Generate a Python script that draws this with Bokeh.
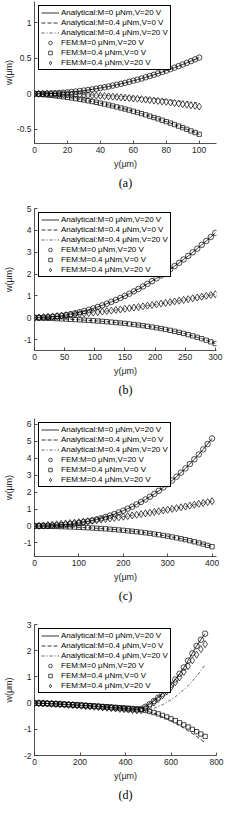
from bokeh.plotting import figure
from bokeh.layouts import column
from bokeh.models import Range1d, FixedTicker, Legend, LegendItem, NumeralTickFormatter
from bokeh.embed import file_html
from bokeh.resources import INLINE

LABELS = ["Analytical:M=0 \u03bcNm,V=20 V", "Analytical:M=0.4 \u03bcNm,V=0 V",
          "Analytical:M=0.4 \u03bcNm,V=20 V", "FEM:M=0 \u03bcNm,V=20 V",
          "FEM:M=0.4 \u03bcNm,V=0 V", "FEM:M=0.4 \u03bcNm,V=20 V"]

# ---------------- panel (a) ----------------
y_a = [0, 2.5, 5, 7.5, 10, 12.5, 15, 17.5, 20, 22.5, 25, 27.5, 30, 32.5, 35, 37.5, 40, 42.5, 45, 47.5,
       50, 52.5, 55, 57.5, 60, 62.5, 65, 67.5, 70, 72.5, 75, 77.5, 80, 82.5, 85, 87.5, 90, 92.5, 95, 97.5, 100]
a_m0_v20 = [0, 0.000, 0.001, 0.003, 0.005, 0.008, 0.011, 0.016, 0.020, 0.026, 0.032, 0.039, 0.046, 0.054,
            0.062, 0.072, 0.082, 0.092, 0.103, 0.115, 0.128, 0.141, 0.154, 0.169, 0.184, 0.199, 0.215,
            0.232, 0.250, 0.268, 0.287, 0.306, 0.326, 0.347, 0.368, 0.390, 0.413, 0.436, 0.460, 0.485, 0.510]
a_m04_v0 = [0, -0.005, -0.010, -0.015, -0.021, -0.028, -0.035, -0.042, -0.050, -0.059, -0.068, -0.077,
            -0.087, -0.098, -0.109, -0.120, -0.132, -0.145, -0.158, -0.171, -0.185, -0.200, -0.215, -0.230,
            -0.246, -0.263, -0.280, -0.297, -0.315, -0.334, -0.353, -0.372, -0.392, -0.413, -0.434, -0.455,
            -0.477, -0.500, -0.523, -0.546, -0.570]
a_m04_v20_fem = [0, 0.000, 0.000, -0.001, -0.002, -0.003, -0.004, -0.006, -0.007, -0.009, -0.011, -0.014,
                 -0.016, -0.019, -0.022, -0.025, -0.029, -0.033, -0.036, -0.041, -0.045, -0.050, -0.054,
                 -0.060, -0.065, -0.070, -0.076, -0.082, -0.088, -0.095, -0.101, -0.108, -0.115, -0.123,
                 -0.130, -0.138, -0.146, -0.154, -0.162, -0.171, -0.180]
y_a_ana3 = [0, 10, 20, 30, 40, 50, 60, 70, 80, 90, 100]
a_m04_v20_ana = [0, -0.001, -0.005, -0.012, -0.021, -0.033, -0.047, -0.064, -0.083, -0.105, -0.130]

# ---------------- panel (b) ----------------
y_b = [0, 7.5, 15, 22.5, 30, 37.5, 45, 52.5, 60, 67.5, 75, 82.5, 90, 97.5, 105, 112.5, 120, 127.5, 135,
       142.5, 150, 157.5, 165, 172.5, 180, 187.5, 195, 202.5, 210, 217.5, 225, 232.5, 240, 247.5, 255,
       262.5, 270, 277.5, 285, 292.5, 300]
b_m0_v20 = [0, 0.003, 0.010, 0.023, 0.041, 0.064, 0.092, 0.125, 0.163, 0.206, 0.254, 0.307, 0.364, 0.427,
            0.494, 0.567, 0.644, 0.726, 0.812, 0.904, 1.000, 1.101, 1.206, 1.317, 1.431, 1.551, 1.675,
            1.803, 1.936, 2.074, 2.216, 2.363, 2.514, 2.669, 2.829, 2.994, 3.162, 3.335, 3.513, 3.694, 3.880]
b_m04_v0 = [0, -0.008, -0.016, -0.024, -0.033, -0.042, -0.052, -0.062, -0.073, -0.084, -0.096, -0.109,
            -0.122, -0.136, -0.150, -0.166, -0.183, -0.201, -0.220, -0.240, -0.261, -0.284, -0.309, -0.335,
            -0.363, -0.393, -0.425, -0.460, -0.496, -0.535, -0.577, -0.622, -0.670, -0.720, -0.775, -0.832,
            -0.894, -0.959, -1.028, -1.102, -1.180]
b_m04_v20 = [0, 0.014, 0.029, 0.044, 0.060, 0.077, 0.094, 0.112, 0.131, 0.151, 0.171, 0.191, 0.213, 0.235,
             0.257, 0.281, 0.305, 0.329, 0.355, 0.381, 0.408, 0.435, 0.463, 0.491, 0.521, 0.551, 0.581,
             0.613, 0.645, 0.677, 0.711, 0.745, 0.779, 0.814, 0.850, 0.887, 0.924, 0.962, 1.001, 1.040, 1.080]

# ---------------- panel (c) ----------------
y_c = [0, 10, 20, 30, 40, 50, 60, 70, 80, 90, 100, 110, 120, 130, 140, 150, 160, 170, 180, 190, 200,
       210, 220, 230, 240, 250, 260, 270, 280, 290, 300, 310, 320, 330, 340, 350, 360, 370, 380, 390, 400]
c_m0_v20 = [0, 0.001, 0.006, 0.013, 0.024, 0.039, 0.058, 0.081, 0.109, 0.141, 0.179, 0.223, 0.272, 0.327,
            0.389, 0.457, 0.532, 0.615, 0.705, 0.803, 0.909, 1.023, 1.146, 1.278, 1.419, 1.570, 1.730,
            1.901, 2.082, 2.274, 2.476, 2.690, 2.916, 3.153, 3.403, 3.664, 3.939, 4.227, 4.527, 4.842, 5.170]
c_m04_v0 = [0, -0.004, -0.009, -0.015, -0.021, -0.028, -0.036, -0.045, -0.055, -0.065, -0.077, -0.089,
            -0.103, -0.117, -0.133, -0.150, -0.168, -0.187, -0.208, -0.231, -0.254, -0.280, -0.307, -0.336,
            -0.367, -0.400, -0.435, -0.472, -0.512, -0.554, -0.599, -0.646, -0.697, -0.750, -0.806, -0.866,
            -0.929, -0.996, -1.067, -1.141, -1.220]
c_m04_v20 = [0, 0.019, 0.038, 0.059, 0.080, 0.103, 0.126, 0.150, 0.176, 0.202, 0.229, 0.257, 0.286, 0.315,
             0.346, 0.378, 0.410, 0.444, 0.478, 0.514, 0.550, 0.587, 0.625, 0.664, 0.704, 0.745, 0.787,
             0.830, 0.874, 0.918, 0.964, 1.010, 1.058, 1.106, 1.155, 1.205, 1.256, 1.308, 1.361, 1.415, 1.470]

# ---------------- panel (d) ----------------
y_d = [0, 18.75, 37.5, 56.25, 75, 93.75, 112.5, 131.25, 150, 168.75, 187.5, 206.25, 225, 243.75, 262.5,
       281.25, 300, 318.75, 337.5, 356.25, 375, 393.75, 412.5, 431.25, 450, 468.75, 487.5, 506.25, 525,
       543.75, 562.5, 581.25, 600, 618.75, 637.5, 656.25, 675, 693.75, 712.5, 731.25, 750]
d_m0_v20 = [0, -0.004, -0.010, -0.017, -0.024, -0.033, -0.041, -0.050, -0.060, -0.070, -0.080, -0.091,
            -0.102, -0.113, -0.124, -0.136, -0.148, -0.160, -0.172, -0.185, -0.197, -0.210, -0.223, -0.237,
            -0.250, -0.220, -0.140, -0.040, 0.080, 0.210, 0.360, 0.520, 0.700, 0.900, 1.120, 1.360, 1.620,
            1.900, 2.180, 2.420, 2.650]
d_m04_v0_fem = [0, -0.004, -0.009, -0.015, -0.021, -0.029, -0.036, -0.044, -0.053, -0.061, -0.070, -0.080,
                -0.089, -0.099, -0.109, -0.119, -0.130, -0.141, -0.151, -0.162, -0.174, -0.185, -0.196,
                -0.208, -0.220, -0.250, -0.280, -0.320, -0.360, -0.410, -0.470, -0.530, -0.600, -0.670,
                -0.750, -0.830, -0.910, -1.000, -1.090, -1.180, -1.270]
d_m04_v0_ana = [0, -0.004, -0.009, -0.015, -0.021, -0.029, -0.036, -0.044, -0.053, -0.061, -0.070, -0.080,
                -0.089, -0.099, -0.109, -0.119, -0.130, -0.141, -0.151, -0.162, -0.174, -0.185, -0.196,
                -0.208, -0.220, -0.250, -0.290, -0.340, -0.390, -0.450, -0.520, -0.590, -0.670, -0.760,
                -0.850, -0.950, -1.050, -1.160, -1.270, -1.390, -1.510]
d_m04_v20_fem = [0, -0.004, -0.011, -0.019, -0.027, -0.036, -0.046, -0.056, -0.067, -0.078, -0.090, -0.102,
                 -0.114, -0.126, -0.139, -0.152, -0.165, -0.179, -0.193, -0.207, -0.221, -0.235, -0.250,
                 -0.265, -0.280, -0.270, -0.200, -0.100, 0.020, 0.150, 0.290, 0.440, 0.610, 0.790, 0.980,
                 1.190, 1.410, 1.630, 1.850, 2.060, 2.250]
d_m04_v20_ana = [0, -0.004, -0.011, -0.019, -0.027, -0.036, -0.046, -0.056, -0.067, -0.078, -0.090, -0.102,
                 -0.114, -0.126, -0.139, -0.152, -0.165, -0.179, -0.193, -0.207, -0.221, -0.235, -0.250,
                 -0.265, -0.280, -0.290, -0.280, -0.250, -0.200, -0.130, -0.060, 0.030, 0.130, 0.240, 0.370,
                 0.510, 0.670, 0.840, 1.030, 1.240, 1.460]

AX = "#262626"
FONT = "Liberation Sans"


def panel(caption, xr, yr, xticks, yticks, height, top, frame_h, ylab_standoff,
          x1, w1, x2, w2, x3, w3, xf, f1, f2, f3):
    p = figure(width=228, height=height, output_backend="svg", toolbar_location=None,
               x_range=Range1d(*xr), y_range=Range1d(*yr),
               min_border_left=28, min_border_right=12, min_border_top=top,
               min_border_bottom=height - top - frame_h)
    p.outline_line_color = None
    p.grid.visible = False
    p.background_fill_color = "white"
    p.xaxis.ticker = FixedTicker(ticks=xticks)
    p.yaxis.ticker = FixedTicker(ticks=yticks)
    p.xaxis.axis_label = "y(\u03bcm)"
    p.yaxis.axis_label = "w(\u03bcm)"
    for ax in (p.xaxis[0], p.yaxis[0]):
        ax.formatter = NumeralTickFormatter(format="0.[0]")
        ax.major_tick_in = 3
        ax.major_tick_out = 0
        ax.minor_tick_line_color = None
        ax.axis_line_color = AX
        ax.axis_line_width = 0.8
        ax.major_tick_line_color = AX
        ax.major_tick_line_width = 0.8
        ax.major_label_text_font = FONT
        ax.major_label_text_font_size = "8.5px"
        ax.major_label_text_color = AX
        ax.major_label_standoff = 3
        ax.axis_label_text_font = FONT
        ax.axis_label_text_font_size = "9px"
        ax.axis_label_text_font_style = "normal"
        ax.axis_label_text_color = AX
    p.xaxis.axis_label_standoff = 3
    p.yaxis.axis_label_standoff = ylab_standoff

    lw = 0.8
    r1 = p.line(x1, w1, line_color="black", line_width=lw)
    r2 = p.line(x2, w2, line_color="black", line_width=lw, line_dash="4 2")
    r3 = p.line(x3, w3, line_color="#333333", line_width=lw, line_dash="3 2 1 2")
    r4 = p.scatter(xf, f1, marker="circle", size=5.5, fill_color=None, line_color="black", line_width=0.7)
    r5 = p.scatter(xf, f2, marker="square", size=4.3, fill_color=None, line_color="black", line_width=0.7)
    r6 = p.scatter(xf, f3, marker="diamond", size=7, fill_color=None, line_color="black", line_width=0.7)

    items = [LegendItem(label=l, renderers=[r]) for l, r in zip(LABELS, [r1, r2, r3, r4, r5, r6])]
    leg = Legend(items=items, location="top_left", label_text_font=FONT, label_text_font_size="8px",
                 label_text_color="black", glyph_width=18, glyph_height=9, label_height=9,
                 spacing=1, padding=2, margin=4, label_standoff=2,
                 border_line_color="black", border_line_width=0.8, border_line_alpha=1.0,
                 background_fill_color="white", background_fill_alpha=1.0)
    p.add_layout(leg)

    p.title.text = caption
    p.title_location = "below"
    p.title.align = "center"
    p.title.text_font = "Liberation Serif"
    p.title.text_font_size = "12px"
    p.title.text_font_style = "normal"
    p.title.text_color = "black"
    p.title.standoff = 4
    return p


pa = panel("(a)", (0, 110.5), (-0.7, 1.3), [0, 20, 40, 60, 80, 100], [-0.5, 0, 0.5, 1],
           203, 1, 142, 0,
           y_a, a_m0_v20, y_a, a_m04_v0, y_a_ana3, a_m04_v20_ana,
           y_a, a_m0_v20, a_m04_v0, a_m04_v20_fem)
pb = panel("(b)", (0, 302), (-1.5, 5), [0, 50, 100, 150, 200, 250, 300], [-1, 0, 1, 2, 3, 4, 5],
           210, 5, 142, 7,
           y_b, b_m0_v20, y_b, b_m04_v0, y_b, b_m04_v20,
           y_b, b_m0_v20, b_m04_v0, b_m04_v20)
pc = panel("(c)", (0, 410), (-1.8, 6.35), [0, 100, 200, 300, 400], [-1, 0, 1, 2, 3, 4, 5, 6],
           206, 5, 138, 7,
           y_c, c_m0_v20, y_c, c_m04_v0, y_c, c_m04_v20,
           y_c, c_m0_v20, c_m04_v0, c_m04_v20)
pd = panel("(d)", (0, 800), (-2, 3), [0, 200, 400, 600, 800], [-2, -1, 0, 1, 2, 3],
           186, 5, 131, 7,
           y_d, d_m0_v20, y_d, d_m04_v0_ana, y_d, d_m04_v20_ana,
           y_d, d_m0_v20, d_m04_v0_fem, d_m04_v20_fem)

layout = column(pa, pb, pc, pd, spacing=0)
open("out.html", "w").write(file_html(layout, INLINE))
